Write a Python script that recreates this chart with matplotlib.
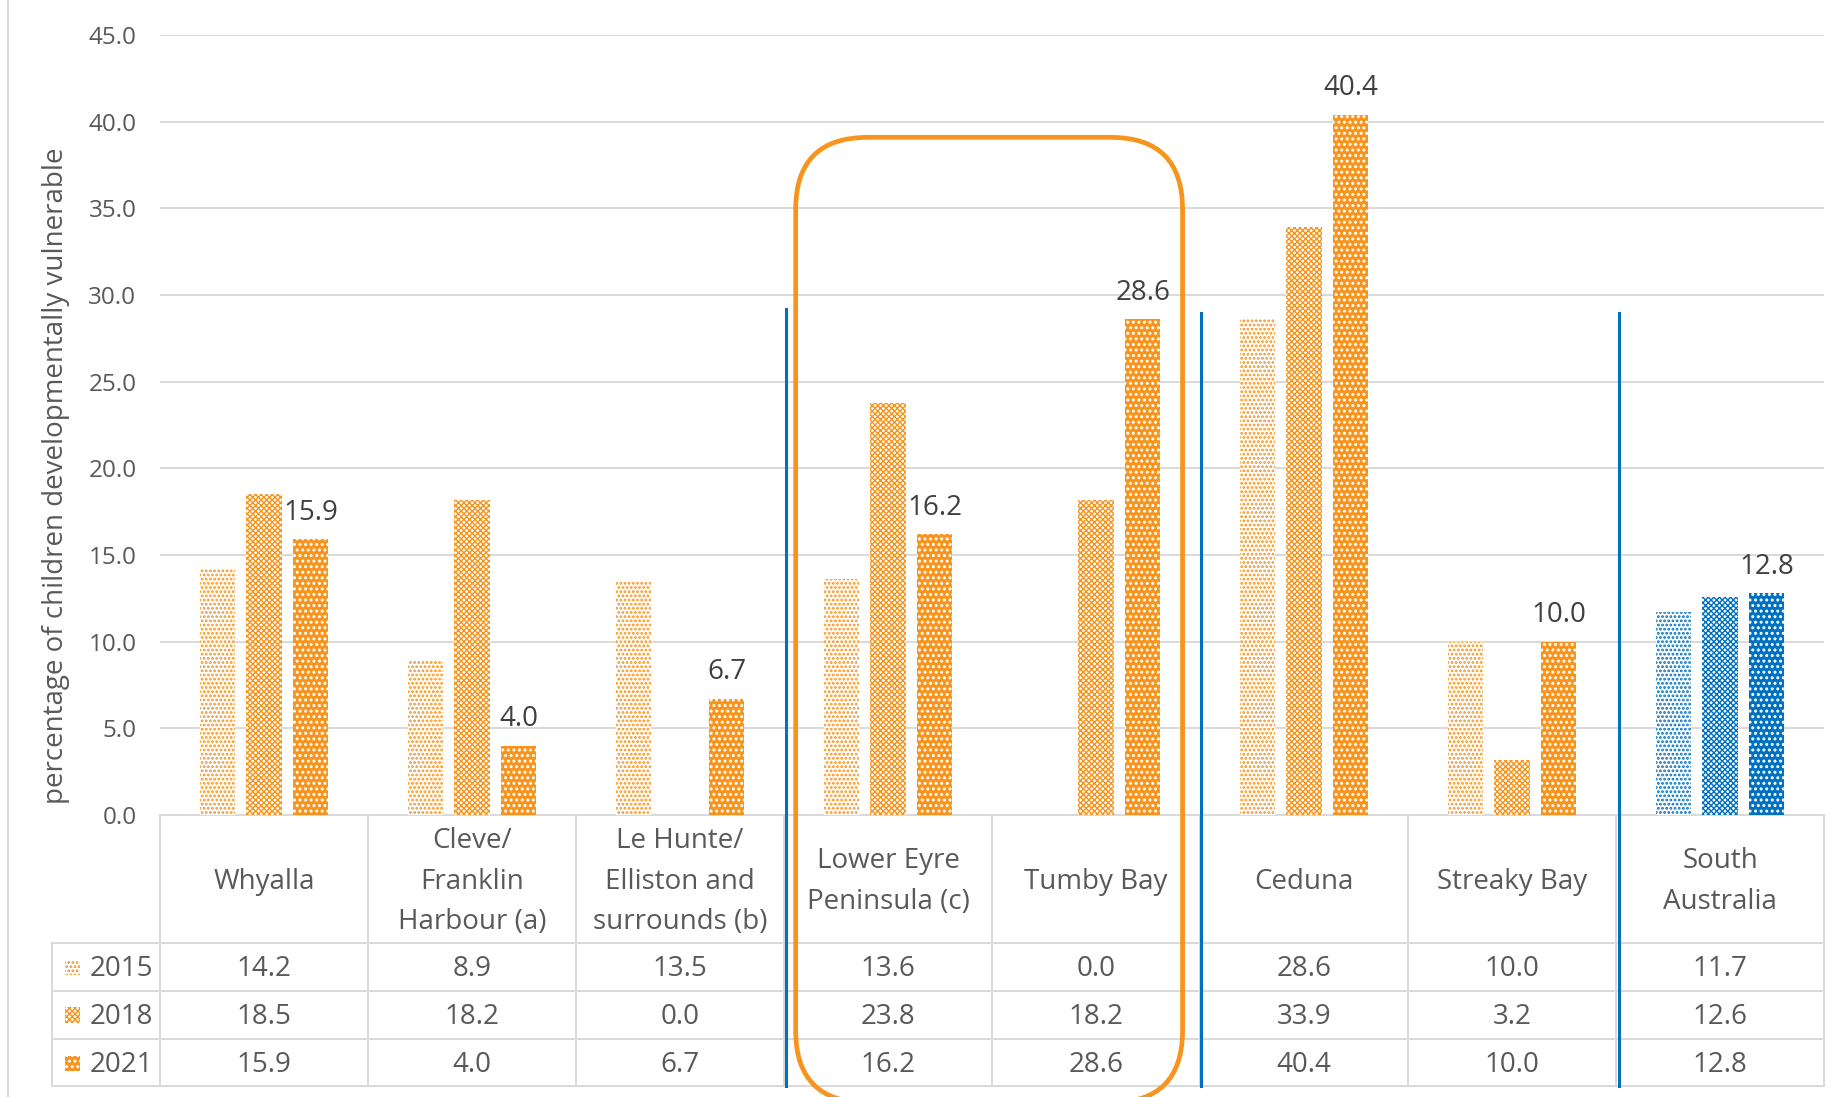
import matplotlib
matplotlib.use("Agg")
import matplotlib.pyplot as plt
from matplotlib.patches import Rectangle, FancyBboxPatch
from matplotlib.lines import Line2D
import matplotlib.transforms as mtrans
import numpy as np

categories = ["Whyalla", "Cleve/\nFranklin\nHarbour (a)", "Le Hunte/\nElliston and\nsurrounds (b)",
              "Lower Eyre\nPeninsula (c)", "Tumby Bay", "Ceduna", "Streaky Bay", "South\nAustralia"]
years = ["2015", "2018", "2021"]
v2015 = [14.2, 8.9, 13.5, 13.6, 0.0, 28.6, 10.0, 11.7]
v2018 = [18.5, 18.2, 0.0, 23.8, 18.2, 33.9, 3.2, 12.6]
v2021 = [15.9, 4.0, 6.7, 16.2, 28.6, 40.4, 10.0, 12.8]
yticks = [0, 5, 10, 15, 20, 25, 30, 35, 40, 45]
ylabel = "percentage of children developmentally vulnerable"

ORANGE = "#F7941D"
BLUE = "#0070C0"
TXT = "#595959"
LBL = "#404040"
GRID = "#D9D9D9"

plt.rcParams['font.family'] = ['Open Sans', 'DejaVu Sans']
plt.rcParams['hatch.linewidth'] = 1.2

fig = plt.figure(figsize=(18.31, 10.97), dpi=100)
ax = fig.add_axes([0.0874, 0.2571, 0.9088, 0.7109])
ax.set_xlim(-0.5, 7.5)
ax.set_ylim(0, 45)

n = len(categories)
x = np.arange(n)
bw = 0.169
off = 0.225
series = [v2015, v2018, v2021]
base_cols = [ORANGE] * (n - 1) + [BLUE]


def style(year, col):
    if year == "2015":
        return "white", col, "....", 1.35
    if year == "2018":
        return "white", col, "xxxxxx", 1.0
    return col, "white", "...", 1.4


def apply_hlw(p, lw):
    if hasattr(p, "set_hatch_linewidth"):
        p.set_hatch_linewidth(lw)


for i, (yr, vals) in enumerate(zip(years, series)):
    for j in range(n):
        fc, hc, h, hlw = style(yr, base_cols[j])
        if vals[j] <= 0:
            continue
        bars = ax.bar(x[j] + (i - 1) * off, vals[j], width=bw, color=fc, edgecolor=hc,
                      hatch=h, linewidth=0, zorder=3)
        for b in bars:
            apply_hlw(b, hlw)

# data labels (2021)
for j in range(n):
    ax.annotate(f"{v2021[j]:.1f}", (x[j] + off, v2021[j]), xytext=(0, 19),
                textcoords="offset points", ha="center", va="center",
                fontsize=20, color=LBL, zorder=5)

# grid & axes
ax.set_yticks(yticks)
ax.set_yticklabels([f"{t:.1f}" for t in yticks], fontsize=17.5, color=TXT)
ax.tick_params(axis="y", length=0, pad=17)
ax.set_xticks([])
for s in ax.spines.values():
    s.set_visible(False)
ax.yaxis.grid(True, color=GRID, linewidth=1.4, zorder=0)
ax.set_axisbelow(True)

fig.text(0.0306, 0.5665, ylabel, rotation=90, ha="center", va="center",
         fontsize=20, color=TXT)

# table
row_lines = [-7.41, -10.18, -12.94, -15.63]
row_centers = [-8.89, -11.65, -14.42]
leg_left = -1.017
kw = dict(color=GRID, linewidth=1.4, clip_on=False, zorder=2)
ax.plot([-0.5, 7.5], [0, 0], **kw)
for yl in row_lines:
    ax.plot([leg_left, 7.5], [yl, yl], **kw)
for k in range(n + 1):
    ax.plot([k - 0.5, k - 0.5], [0, row_lines[-1]], **kw)
ax.plot([leg_left, leg_left], [row_lines[0], row_lines[-1]], **kw)

for j, c in enumerate(categories):
    ax.text(x[j], -3.84, c, ha="center", va="center", fontsize=20, color=TXT,
            linespacing=1.58, clip_on=False)

for i, (yr, vals) in enumerate(zip(years, series)):
    yc = row_centers[i]
    for j in range(n):
        ax.text(x[j], yc, f"{vals[j]:.1f}", ha="center", va="center",
                fontsize=20, color=TXT, clip_on=False)
    fc, hc, h, hlw = style(yr, ORANGE)
    sw = Rectangle((-0.957, yc - 0.44 + 0.1), 0.073, 0.88, facecolor=fc,
                   edgecolor=hc, hatch=h, linewidth=0, clip_on=False, zorder=3)
    apply_hlw(sw, hlw)
    ax.add_patch(sw)
    ax.text(-0.837, yc, yr, ha="left", va="center", fontsize=20, color=TXT, clip_on=False)

# blue separators
for xs, ytop in [(2.51, 29.18), (4.505, 28.98), (6.515, 28.98)]:
    ax.plot([xs, xs], [row_lines[-1], ytop], color=BLUE, linewidth=2.2,
            clip_on=False, zorder=4)

# orange rounded highlight box (drawn in pixel space)
fig.canvas.draw()
(x0, y0) = ax.transData.transform((2.556, -16.6))
(x1, y1) = ax.transData.transform((4.416, 39.1))
box = FancyBboxPatch((x0, y0), x1 - x0, y1 - y0,
                     boxstyle="round,pad=0,rounding_size=72",
                     transform=mtrans.IdentityTransform(),
                     facecolor="none", edgecolor=ORANGE, linewidth=3.4, zorder=6)
fig.add_artist(box)

# chart border (left)
fig.add_artist(Line2D([8 / 1831, 8 / 1831], [0, 1], transform=fig.transFigure,
                      color=GRID, linewidth=1.4))

fig.savefig("out.png", dpi=100)
